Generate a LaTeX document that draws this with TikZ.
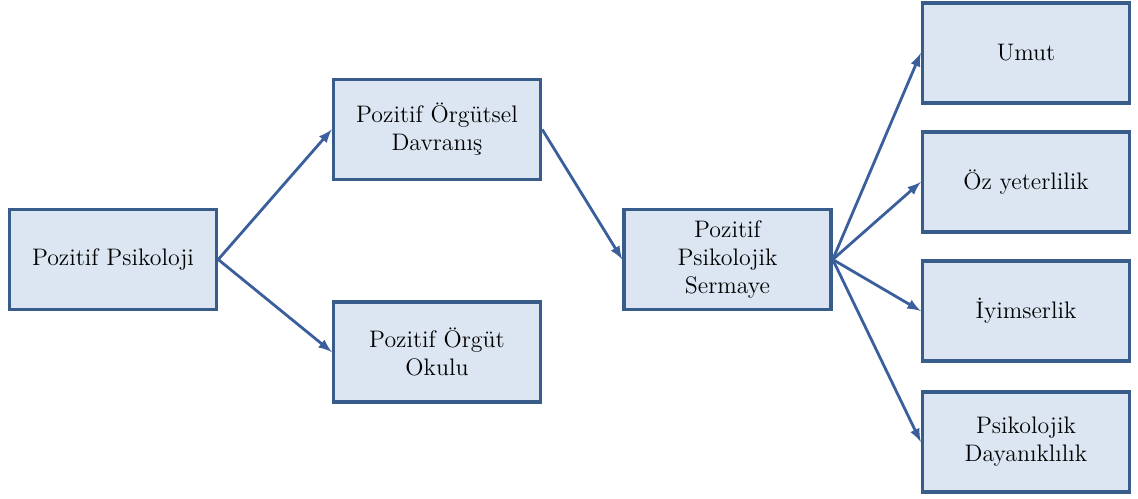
\documentclass[tikz,border=0pt]{standalone}
\usepackage{fontspec}
\usetikzlibrary{arrows}
\definecolor{boxfill}{HTML}{DCE6F2}
\definecolor{boxline}{HTML}{385D8A}
\definecolor{arrline}{HTML}{3A5F9C}
\begin{document}
\begin{tikzpicture}[x=0.02cm, y=-0.02cm]
	\useasboundingbox (0,0) rectangle (1138,499);
	\tikzstyle{box}=[fill=boxfill, draw=boxline, line width=2pt, rectangle, minimum width=4.14cm, minimum height=2.0cm, align=center, font=\fontsize{13.6}{16}\selectfont, text=black]
	\tikzstyle{arr}=[-latex, draw=arrline, line width=1.6pt]
	\path (113,259.5)  node[box] (psik) {Pozitif Psikoloji};
	\path (437,129.5)  node[box] (davr) {Pozitif Örgütsel\\Davranış};
	\path (437,352)    node[box] (okul) {Pozitif Örgüt\\Okulu};
	\path (727.5,259.5) node[box] (serm) {Pozitif\\Psikolojik\\Sermaye};
	\path (1026,53)    node[box] (umut) {Umut};
	\path (1026,182)   node[box] (ozye) {Öz yeterlilik};
	\path (1026,311)   node[box] (iyim) {İyimserlik};
	\path (1026,442)   node[box] (dayn) {Psikolojik\\Dayanıklılık};
	\draw[arr] (psik.east) -- (davr.west);
	\draw[arr] (psik.east) -- (okul.west);
	\draw[arr] (davr.east) -- (serm.west);
	\draw[arr] (serm.east) -- (umut.west);
	\draw[arr] (serm.east) -- (ozye.west);
	\draw[arr] (serm.east) -- (iyim.west);
	\draw[arr] (serm.east) -- (dayn.west);
\end{tikzpicture}
\end{document}
